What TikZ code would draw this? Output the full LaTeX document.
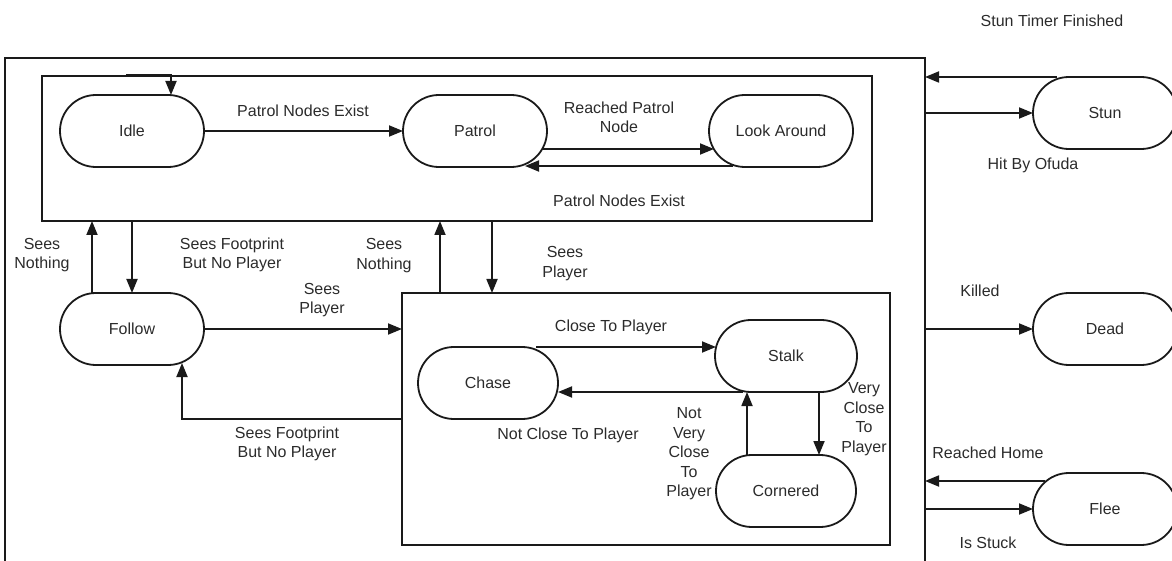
\documentclass[tikz,border=0pt]{standalone}
\usepackage{fontspec}
\setmainfont{Liberation Sans}
\usetikzlibrary{arrows.meta,calc}
\definecolor{ink}{HTML}{1A1A1A}
\definecolor{txt}{HTML}{2B2B2B}
\begin{document}
\begin{tikzpicture}[x=1pt,y=-1pt,
  state/.style={draw=ink, line width=1.8pt, rounded corners=35.9pt,
    minimum width=144pt, minimum height=72pt, inner sep=0pt, outer sep=0pt,
    font=\fontsize{16}{19.5}\selectfont, text=txt},
  frame/.style={draw=ink, line width=1.8pt, inner sep=0pt, outer sep=0pt,
    anchor=north west},
  arr/.style={draw=ink, line width=1.8pt, -{Triangle[length=14pt,width=11pt]}},
  lbl/.style={font=\fontsize{16}{19.5}\selectfont, text=txt, align=center,
    inner sep=0pt}]
\useasboundingbox (0,0) rectangle (1172,561);
\clip (0,0) rectangle (1172,561);

% composite frames
\node[frame, minimum width=920pt, minimum height=560pt] (outer) at (5,58) {};
\node[frame, minimum width=830pt, minimum height=145pt] (upper) at (42,76) {};
\node[frame, minimum width=488pt, minimum height=252pt] (lower) at (402,293) {};

% states
\node[state] (idle)   at (132,131) {Idle};
\node[state] (patrol) at (475,131) {Patrol};
\node[state] (look)   at (781,131) {Look Around};
\node[state] (follow) at (132,329) {Follow};
\node[state, minimum width=140pt] (chase) at (488,383) {Chase};
\node[state, minimum width=142pt] (stalk) at (786,356) {Stalk};
\node[state, minimum width=140pt] (corner) at (786,491) {Cornered};
\node[state] (stun) at (1105,113) {Stun};
\node[state] (dead) at (1105,329) {Dead};
\node[state] (flee) at (1105,509) {Flee};

% connector end points
\coordinate (init) at (126,75);
\coordinate (fup)  at ([shift={(-40,0)}]follow.north);
\coordinate (lup)  at ([shift={(38,0)}]lower.north west);
\coordinate (ldn)  at ([shift={(90,0)}]lower.north west);
\coordinate (cst)  at ([shift={(48,0)}]chase.north);
\coordinate (cup)  at ([shift={(-39,0)}]corner.north);
\coordinate (sdn)  at ([shift={(33,0)}]stalk.south);
\coordinate (fs)   at ([shift={(-60,-28)}]flee.center);

% initial transition into Idle
\draw[arr] (init) -| ([shift={(39,0)}]idle.north);

% patrol cycle
\draw[arr] (idle.east) -- (patrol.west |- idle.east);
\draw[arr] ([shift={(-4,18)}]patrol.east) -- ([shift={(5,18)}]look.west);
\draw[arr] ([shift={(-48,-1)}]look.south) -- ([shift={(50,-1)}]patrol.south);

% follow transitions
\draw[arr] (fup) -- (upper.south -| fup);
\draw[arr] (upper.south -| follow.north) -- (follow.north);
\draw[arr] (follow.east) -- (lower.west |- follow.east);
\draw[arr] (lower.west) -| ([shift={(50,-2)}]follow.south);

% between the two composite states
\draw[arr] (lup) -- (upper.south -| lup);
\draw[arr] (upper.south -| ldn) -- (ldn);

% pursuit cycle
\draw[arr] (cst) -- ([shift={(1,0)}]stalk.west |- cst);
\draw[arr] ([shift={(-43,0)}]stalk.south) -- (chase.east |- stalk.south);
\draw[arr] (cup) -- (stalk.south -| cup);
\draw[arr] (sdn) -- (corner.north -| sdn);

% global transitions
\draw[arr] ([shift={(-48,0)}]stun.north) -- (outer.east |- stun.north);
\draw[arr] (outer.east |- stun.west) -- (stun.west);
\draw[arr] (outer.east |- dead.west) -- (dead.west);
\draw[arr] (fs) -- (outer.east |- fs);
\draw[arr] (outer.east |- flee.west) -- (flee.west);

% transition labels
\node[lbl] (l1)  at (303,111)   {Patrol Nodes Exist};
\node[lbl] (l2)  at (619,117.5) {Reached Patrol\\Node};
\node[lbl] (l3)  at (619,201)   {Patrol Nodes Exist};
\node[lbl] (l4)  at (1052,21)   {Stun Timer Finished};
\node[lbl] (l5)  at (1033,165)  {Hit By Ofuda};
\node[lbl] (l6)  at (980,291)   {Killed};
\node[lbl] (l7)  at (988,453)   {Reached Home};
\node[lbl] (l8)  at (988,543)   {Is Stuck};
\node[lbl] (l9)  at (42,255)    {Sees\\Nothing};
\node[lbl] (l10) at (232,255)   {Sees Footprint\\But No Player};
\node[lbl] (l11) at (384,255.5) {Sees\\Nothing};
\node[lbl] (l12) at (565,263.5) {Sees\\Player};
\node[lbl] (l13) at (322,300)   {Sees\\Player};
\node[lbl] (l14) at (287,444)   {Sees Footprint\\But No Player};
\node[lbl] (l15) at (611,327)   {Close To Player};
\node[lbl] (l16) at (568,435)   {Not Close To Player};
\node[lbl] (l17) at (689,454)   {Not\\Very\\Close\\To\\Player};
\node[lbl] (l18) at (864,419)   {Very\\Close\\To\\Player};
\end{tikzpicture}
\end{document}
